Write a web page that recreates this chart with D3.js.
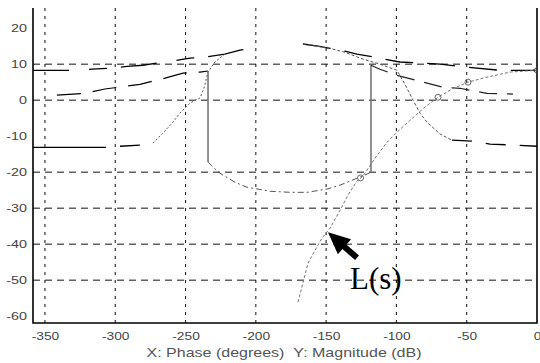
<!DOCTYPE html>
<html>
<head>
<meta charset="utf-8">
<style>
  body { margin: 0; background: #fff; }
  svg { display: block; }
  .tick text { font-family: "Liberation Sans", Arial, sans-serif; font-size: 11px; fill: #444; }
</style>
</head>
<body>
<svg id="chart" width="540" height="363"></svg>
<script src="https://cdn.jsdelivr.net/npm/d3@7/dist/d3.min.js"></script>
<script>
// axis ticks
var phaseTicks = [-350, -300, -250, -200, -150, -100, -50, 0];
var dbTicks = [20, 10, 0, -10, -20, -30, -40, -50, -60];
var dbGrid = [10, 0, -20, -30, -40, -50];

// bounds on the Nichols chart, [phase (deg), magnitude (dB)]
var topBoundL = [[-358.5, 8.3], [-332.2, 8.3], [-316.6, 8.6], [-302.3, 8.9], [-291.7, 9.4],
  [-280.3, 9.7], [-270.3, 10.3], [-262.5, 10.6], [-246.9, 11.7], [-236.9, 11.9],
  [-222.0, 12.8], [-211.3, 13.9], [-198.5, 14.7], [-195.0, 15.3]];
var topBoundR = [[-166.5, 15.6], [-155.8, 15.0], [-147.3, 14.4], [-136.6, 13.6], [-128.1, 12.8],
  [-115.2, 11.9], [-97.5, 10.6], [-83.2, 10.3], [-69.0, 10.0], [-51.2, 9.2], [-26.3, 8.3], [0, 8.3]];

var lowBoundLFlat = [[-358.5, -13.1], [-306.6, -13.1], [-296.6, -12.8], [-282.4, -12.5], [-273.2, -11.9]];
var lowBoundLRise = [[-273.2, -11.9], [-266.1, -9.2], [-258.9, -6.1], [-254.0, -3.6], [-246.9, -0.8],
  [-239.7, 0.6], [-236.9, 3.3], [-234.0, 7.8], [-229.1, 10.6], [-222.0, 12.8]];
var lowBoundRFall = [[-166.5, 15.6], [-147.3, 14.4], [-136.6, 13.3], [-123.8, 11.4], [-111.7, 10.0],
  [-99.6, 8.3], [-93.9, 4.4], [-88.2, 0], [-83.2, -3.6], [-78.3, -6.1], [-69.0, -9.4], [-60.5, -11.1]];
var lowBoundRFlat = [[-60.5, -11.1], [-46.2, -11.4], [-33.4, -12.2], [-15.7, -12.5], [0, -12.8]];

var midBoundL = [[-341.5, 1.4], [-321.5, 1.9], [-307.3, 3.1], [-282.4, 4.4], [-264.6, 6.1],
  [-251.8, 7.5], [-239.7, 7.8], [-234.0, 8.1]];
var innerWallL = [[-234.0, 8.1], [-234.0, -17.2]];
var innerFloor = [[-234.0, -17.2], [-230.5, -18.6], [-225.5, -20.3], [-214.8, -22.8], [-206.3, -24.2],
  [-198.5, -24.7], [-190.0, -25.3], [-175.7, -25.6], [-163.6, -25.6], [-149.4, -24.7],
  [-140.1, -23.6], [-128.1, -21.7], [-122.4, -20.8], [-118.1, -20.0]];
var innerWallR = [[-118.1, -20.0], [-118.1, 9.7]];
var midBoundR = [[-118.1, 9.7], [-111.7, 8.6], [-99.6, 6.9], [-81.1, 5.0], [-66.9, 3.6],
  [-54.8, 3.3], [-35.6, 1.9], [-17.1, 1.7]];

// open loop L(s)
var lsCurve = [[-170.0, -56.1], [-166.5, -50.8], [-162.9, -45.3], [-157.9, -41.7], [-152.9, -38.3],
  [-147.3, -35.6], [-140.1, -30.6], [-134.5, -26.4], [-128.1, -22.5], [-123.8, -21.1],
  [-115.2, -16.1], [-106.7, -11.7], [-99.6, -8.9], [-90.3, -5.6], [-79.7, -1.9], [-70.4, 0.8],
  [-60.5, 3.1], [-49.1, 5.0], [-35.6, 6.4], [-19.2, 7.8], [0, 8.3]];
var lsMarkers = [[-125.5, -21.6], [-70.4, 0.8], [-49.1, 5.0]];
var lsEnd = [0, 8.3];
var arrowTip = [-148.7, -36.7], arrowTail = [-128.0, -43.8];

var svg = d3.select("#chart");
var x = d3.scaleLinear().domain([-358.5, 0]).range([33, 537]);
var y = d3.scaleLinear().domain([-61.9, 25.6]).range([323, 8]);

// grid
svg.append("g").selectAll("line").data(phaseTicks.filter(function(d) { return d < 0; }))
  .enter().append("line")
  .attr("x1", function(d) { return x(d); }).attr("x2", function(d) { return x(d); })
  .attr("y1", 8).attr("y2", 323)
  .attr("stroke", "#222").attr("stroke-width", 1.1).attr("stroke-dasharray", "3,5");
svg.append("g").selectAll("line").data(dbGrid)
  .enter().append("line")
  .attr("x1", 33).attr("x2", 537)
  .attr("y1", function(d) { return y(d); }).attr("y2", function(d) { return y(d); })
  .attr("stroke", "#111").attr("stroke-width", 1).attr("stroke-dasharray", "7,5");

// axes
var xAxis = svg.append("g").attr("transform", "translate(0,323)")
  .call(d3.axisBottom(x).tickValues(phaseTicks).tickSize(0).tickPadding(9)
    .tickFormat(function(d) { return String(d); }));
xAxis.select(".domain").remove();
xAxis.selectAll("text").attr("transform", "scale(1.25,1)").attr("dy", "0.71em");

var yAxis = svg.append("g").attr("transform", "translate(33,0)")
  .call(d3.axisLeft(y).tickValues(dbTicks).tickSize(0)
    .tickFormat(function(d) { return String(d); }));
yAxis.select(".domain").remove();
yAxis.selectAll("text").attr("x", -6 / 1.3).attr("transform", "scale(1.3,1)");

svg.append("path").attr("d", "M33,8V323H537V8")
  .attr("fill", "none").attr("stroke", "#000").attr("stroke-width", 1.6);

// curves
var line = d3.line().x(function(d) { return x(d[0]); }).y(function(d) { return y(d[1]); });
var curves = [
  { pts: topBoundL, color: "#000", w: 1.3, dash: "36,20,18,14" },
  { pts: topBoundR, color: "#000", w: 1.3, dash: "28,14" },
  { pts: lowBoundLFlat, color: "#000", w: 1.3, dash: "73,14,20,30" },
  { pts: lowBoundLRise, color: "#555", w: 1, dash: "2,2" },
  { pts: lowBoundRFall, color: "#555", w: 1, dash: "3,2" },
  { pts: lowBoundRFlat, color: "#000", w: 1.3, dash: "20,14" },
  { pts: midBoundL, color: "#000", w: 1.2, dash: "24,12" },
  { pts: innerWallL, color: "#777", w: 1.6, dash: null },
  { pts: innerFloor, color: "#555", w: 1, dash: "6,3,2,3" },
  { pts: innerWallR, color: "#777", w: 1.6, dash: null },
  { pts: midBoundR, color: "#222", w: 1.2, dash: "18,10" },
  { pts: lsCurve, color: "#777", w: 1, dash: "3,2" }
];
svg.append("g").selectAll("path").data(curves).enter().append("path")
  .attr("d", function(d) { return line(d.pts); })
  .attr("fill", "none")
  .attr("stroke", function(d) { return d.color; })
  .attr("stroke-width", function(d) { return d.w; })
  .attr("stroke-dasharray", function(d) { return d.dash; });

// L(s) markers
svg.append("g").selectAll("circle").data(lsMarkers).enter().append("circle")
  .attr("cx", function(d) { return x(d[0]); }).attr("cy", function(d) { return y(d[1]); })
  .attr("r", 3).attr("fill", "none").attr("stroke", "#666").attr("stroke-width", 1);
var ex = x(lsEnd[0]) - 1, ey = y(lsEnd[1]);
svg.append("path").attr("d", "M" + (ex + 2) + "," + (ey - 4) + "L" + (ex - 3) + "," + ey + "L" + (ex + 2) + "," + (ey + 4))
  .attr("fill", "none").attr("stroke", "#444").attr("stroke-width", 1);

// arrow
var tx = x(arrowTip[0]), ty = y(arrowTip[1]), sx = x(arrowTail[0]), sy = y(arrowTail[1]);
var len = Math.hypot(sx - tx, sy - ty), ux = (sx - tx) / len, uy = (sy - ty) / len;
var bx = tx + ux * 22, by = ty + uy * 22;
svg.append("path")
  .attr("d", "M" + tx + "," + ty + "L" + (bx - uy * 10) + "," + (by + ux * 10) + "L" + (bx + uy * 10) + "," + (by - ux * 10) + "Z")
  .attr("fill", "#000");
svg.append("line").attr("x1", bx - ux * 2).attr("y1", by - uy * 2).attr("x2", sx).attr("y2", sy)
  .attr("stroke", "#000").attr("stroke-width", 6);

svg.append("text").attr("x", 350).attr("y", 289)
  .attr("font-family", "'Liberation Serif', 'Times New Roman', serif").attr("font-size", 31)
  .attr("fill", "#000").text("L(s)");

svg.append("text").attr("x", 284).attr("y", 357).attr("text-anchor", "middle")
  .attr("font-family", "'Liberation Sans', Arial, sans-serif").attr("font-size", 13.5)
  .attr("fill", "#555").attr("textLength", 275).attr("lengthAdjust", "spacingAndGlyphs")
  .attr("xml:space", "preserve")
  .text("X: Phase (degrees)\u00a0\u00a0Y: Magnitude (dB)");
</script>
</body>
</html>
